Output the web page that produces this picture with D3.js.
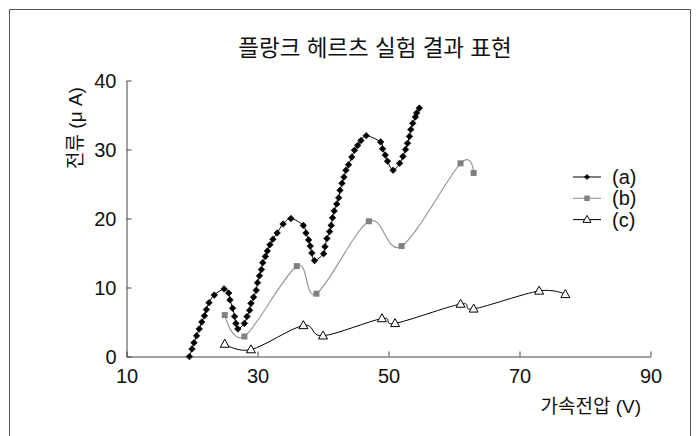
<!DOCTYPE html>
<html>
<head>
<meta charset="utf-8">
<script src="https://cdn.jsdelivr.net/npm/d3@7"></script>
<style>
  html, body { margin: 0; padding: 0; background: #fff; }
  svg text { font-family: "Liberation Sans", Arial, "Noto Sans CJK KR", sans-serif; fill: #111; }
</style>
</head>
<body>
<svg id="chart" width="699" height="436"></svg>
<script>
// Franck–Hertz experiment: anode current vs accelerating voltage
const title = "플랑크 헤르츠 실험 결과 표현";
const xLabel = "가속전압 (V)";
const yLabel = "전류 (μ A)";
const xTicks = [10, 30, 50, 70, 90];
const yTicks = [0, 10, 20, 30, 40];
const seriesNames = ["(a)", "(b)", "(c)"];

// (a) dense measurement [voltage, current]
const seriesA = [
  [19.6, 0], [20.0, 1.1], [20.3, 2.0], [20.7, 3.0], [21.1, 4.0], [21.5, 5.0],
  [21.9, 5.9], [22.2, 6.8], [22.6, 7.8], [23.4, 8.9], [24.9, 9.8], [25.6, 9.2],
  [25.8, 8.2], [26.2, 7.0], [26.5, 5.8], [26.7, 4.8], [27.0, 4.0], [28.0, 4.8],
  [28.4, 5.8], [28.8, 6.7], [29.0, 7.7], [29.4, 8.6], [29.8, 9.6], [30.0, 10.7],
  [30.3, 11.7], [30.6, 12.6], [30.8, 13.6], [31.2, 14.5], [31.5, 15.3], [31.9, 16.2],
  [32.35, 17.0], [33.0, 17.9], [33.9, 19.2], [35.1, 20.0], [37.0, 19.0], [37.4, 17.9],
  [37.8, 16.9], [38.05, 16.0], [38.3, 15.0], [38.7, 13.9], [40.1, 14.9], [40.3, 15.9],
  [40.6, 17.1], [41.0, 18.1], [41.25, 19.0], [41.45, 20.1], [41.7, 21.1], [42.1, 22.1],
  [42.4, 23.0], [42.6, 24.1], [42.9, 25.1], [43.2, 26.0], [43.5, 27.0], [43.9, 27.8],
  [44.4, 28.9], [44.8, 29.9], [45.3, 30.6], [45.8, 31.3], [46.6, 32.0], [48.8, 31.1],
  [49.1, 30.1], [49.5, 29.2], [49.85, 28.3], [50.7, 27.0], [51.7, 28.0], [52.2, 29.0],
  [52.6, 30.0], [52.9, 30.9], [53.2, 31.9], [53.4, 32.9], [53.7, 33.8], [54.1, 34.7],
  [54.3, 35.3], [54.7, 36.0]
];
// (b)
const seriesB = [
  [25, 6.0], [28, 2.9], [36, 13.1], [39, 9.1], [47, 19.6], [52, 16.0], [61, 28.0], [63, 26.6]
];
// (c)
const seriesC = [
  [25, 1.8], [29, 1.0], [37, 4.5], [40, 3.0], [49, 5.5], [51, 4.8], [61, 7.6], [63, 6.9], [73, 9.5], [77, 9.0]
];

const svg = d3.select("#chart");

// outer frame
svg.append("path")
  .attr("d", "M9.5,436 V9.5 H690.5 V436")
  .attr("fill", "none").attr("stroke", "#555").attr("stroke-width", 1);

const x = d3.scaleLinear().domain([10, 90]).range([126.5, 650.5]);
const y = d3.scaleLinear().domain([0, 40]).range([356.5, 80.5]);

// title
svg.append("text")
  .attr("x", 375).attr("y", 56)
  .attr("text-anchor", "middle")
  .style("font-size", "22.5px")
  .text(title);

// axes (ticks point inward)
const axisColor = "#444";
const gx = svg.append("g").attr("transform", `translate(0,${y(0)})`)
  .call(d3.axisBottom(x).tickValues(xTicks).tickSizeInner(-5).tickSizeOuter(0).tickPadding(9));
const gy = svg.append("g").attr("transform", `translate(${x(10)},0)`)
  .call(d3.axisLeft(y).tickValues(yTicks).tickSizeInner(-5).tickSizeOuter(0).tickPadding(10));
[gx, gy].forEach(g => {
  g.select(".domain").attr("stroke", axisColor);
  g.selectAll(".tick line").attr("stroke", axisColor);
  g.selectAll(".tick text")
    .style("font-size", "20px")
    .style("font-family", "'Liberation Sans', Arial, sans-serif")
    .attr("fill", "#111");
});
gx.selectAll(".tick text").attr("dy", "0.85em");
gy.selectAll(".tick text").attr("dy", "0.35em");

// axis titles
svg.append("text")
  .attr("x", 641).attr("y", 413)
  .attr("text-anchor", "end")
  .style("font-size", "19px")
  .text(xLabel);
svg.append("text")
  .attr("transform", "translate(82,128) rotate(-90)")
  .attr("text-anchor", "middle")
  .style("font-size", "19px")
  .text(yLabel);

const line = d3.line()
  .x(d => x(d[0])).y(d => y(d[1]))
  .curve(d3.curveCardinal.tension(0));

// marker shapes
const diamond = r => `M0,${-r}L${r},0L0,${r}L${-r},0Z`;
const square = s => `M${-s / 2},${-s / 2}h${s}v${s}h${-s}Z`;
const triangle = (w, h) => `M0,${-h * 0.6}L${w / 2},${h * 0.4}L${-w / 2},${h * 0.4}Z`;

const styles = [
  { data: seriesA, line: "#000", lw: 1, marker: diamond(3.3), fill: "#000", stroke: "#000", sw: 0.6 },
  { data: seriesB, line: "#999", lw: 1.2, marker: square(6), fill: "#808080", stroke: "none", sw: 0 },
  { data: seriesC, line: "#000", lw: 1, marker: triangle(9, 8), fill: "#fff", stroke: "#000", sw: 1 }
];

styles.forEach(s => {
  svg.append("path")
    .datum(s.data)
    .attr("d", line)
    .attr("fill", "none")
    .attr("stroke", s.line)
    .attr("stroke-width", s.lw);
  svg.append("g").selectAll("path")
    .data(s.data)
    .join("path")
    .attr("transform", d => `translate(${x(d[0])},${y(d[1])})`)
    .attr("d", s.marker)
    .attr("fill", s.fill)
    .attr("stroke", s.stroke)
    .attr("stroke-width", s.sw);
});

// legend
const legend = svg.append("g").attr("transform", "translate(573,177)");
styles.forEach((s, i) => {
  const g = legend.append("g").attr("transform", `translate(0,${i * 21.3})`);
  g.append("line").attr("x1", 0).attr("x2", 28).attr("y1", 0).attr("y2", 0)
    .attr("stroke", s.line).attr("stroke-width", s.lw);
  const mk = i === 0 ? diamond(2.6) : i === 1 ? square(5.5) : triangle(8, 7);
  g.append("path").attr("transform", "translate(14,0)").attr("d", mk)
    .attr("fill", s.fill).attr("stroke", s.stroke).attr("stroke-width", s.sw);
  g.append("text").attr("x", 39).attr("y", 0).attr("dy", "0.35em")
    .style("font-size", "20px")
    .text(seriesNames[i]);
});
</script>
</body>
</html>
